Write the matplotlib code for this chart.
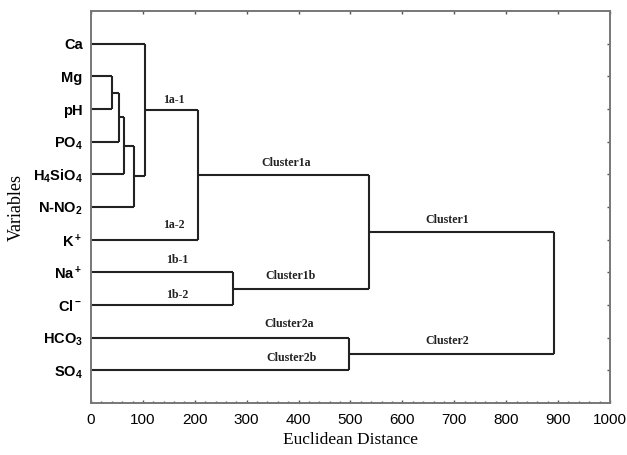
import matplotlib
matplotlib.use("Agg")
import matplotlib.pyplot as plt
from matplotlib.ticker import MultipleLocator

plt.rcParams['mathtext.fontset'] = 'custom'
plt.rcParams['mathtext.rm'] = 'Liberation Sans:bold'
plt.rcParams['mathtext.bf'] = 'Liberation Sans:bold'
plt.rcParams['mathtext.default'] = 'bf'

# leaves, top to bottom
leaves = ['Ca', 'Mg', 'pH', 'PO$_4$', 'H$_4$SiO$_4$', 'N-NO$_2$', 'K$^+$',
          'Na$^+$', 'Cl$^-$', 'HCO$_3$', 'SO$_4$']

# merges: (left child, right child, distance); ints >= 100 refer to earlier merges
merge_left = [1, 100, 101, 102, 0, 104, 7, 105, 9, 107]
merge_right = [2, 3, 4, 5, 103, 6, 8, 106, 10, 108]
merge_dist = [40, 54, 64, 83, 105, 207, 274, 535, 498, 892]

# cluster annotations
ann_text = ['1a-1', '1a-2', '1b-1', '1b-2', 'Cluster1a', 'Cluster1',
            'Cluster1b', 'Cluster2a', 'Cluster2b', 'Cluster2']
ann_x = [159, 159, 166, 166, 376, 687, 384, 382, 386, 687]
ann_y = [9.28, 5.45, 4.38, 3.31, 7.35, 5.6, 3.89, 2.42, 1.38, 1.9]

n = len(leaves)
leaf_y = [n - i for i in range(n)]

fig = plt.figure(figsize=(6.27, 4.55), dpi=100)
ax = fig.add_axes([0.1451, 0.1143, 0.8278, 0.8615])

node_pos = {}
for i in range(n):
    node_pos[i] = (0, leaf_y[i])

lc = '#222222'
for k in range(len(merge_dist)):
    a = node_pos[merge_left[k]]
    b = node_pos[merge_right[k]]
    d = merge_dist[k]
    ax.plot([a[0], d], [a[1], a[1]], color=lc, lw=1.5, solid_capstyle='butt')
    ax.plot([b[0], d], [b[1], b[1]], color=lc, lw=1.5, solid_capstyle='butt')
    ax.plot([d, d], [a[1], b[1]], color=lc, lw=1.5, solid_capstyle='butt')
    node_pos[100 + k] = (d, (a[1] + b[1]) / 2)

for t, x, y in zip(ann_text, ann_x, ann_y):
    ax.text(x, y, t, ha='center', va='center', fontsize=8.6,
            fontfamily='Liberation Serif', fontweight='bold', color='#222222')

ax.set_xlim(0, 1000)
ax.set_ylim(0, 12)
ax.xaxis.set_major_locator(MultipleLocator(100))
ax.xaxis.set_minor_locator(MultipleLocator(20))
ax.set_yticks(leaf_y)
ax.set_yticklabels(leaves)

ax.tick_params(axis='x', which='both', direction='in', top=True, length=2.5,
               width=1, color='#555555', labelsize=11, pad=7)
ax.tick_params(axis='x', which='minor', top=False, length=1.8)
ax.tick_params(axis='y', direction='in', right=True, left=False, length=2.5,
               width=1, color='#555555', labelsize=10.5, pad=6)
for lab in ax.get_xticklabels() + ax.get_yticklabels():
    lab.set_fontfamily('Liberation Sans')
    lab.set_fontweight('bold')
for lab in ax.get_xticklabels():
    lab.set_fontweight('normal')

for s in ax.spines.values():
    s.set_color('#777777')
    s.set_linewidth(1.4)

ax.set_xlabel('Euclidean Distance', fontfamily='Liberation Serif', fontsize=12.5, labelpad=4)
ax.set_ylabel('Variables', fontfamily='Liberation Serif', fontsize=13, labelpad=6)

fig.savefig('out.png', dpi=100)
